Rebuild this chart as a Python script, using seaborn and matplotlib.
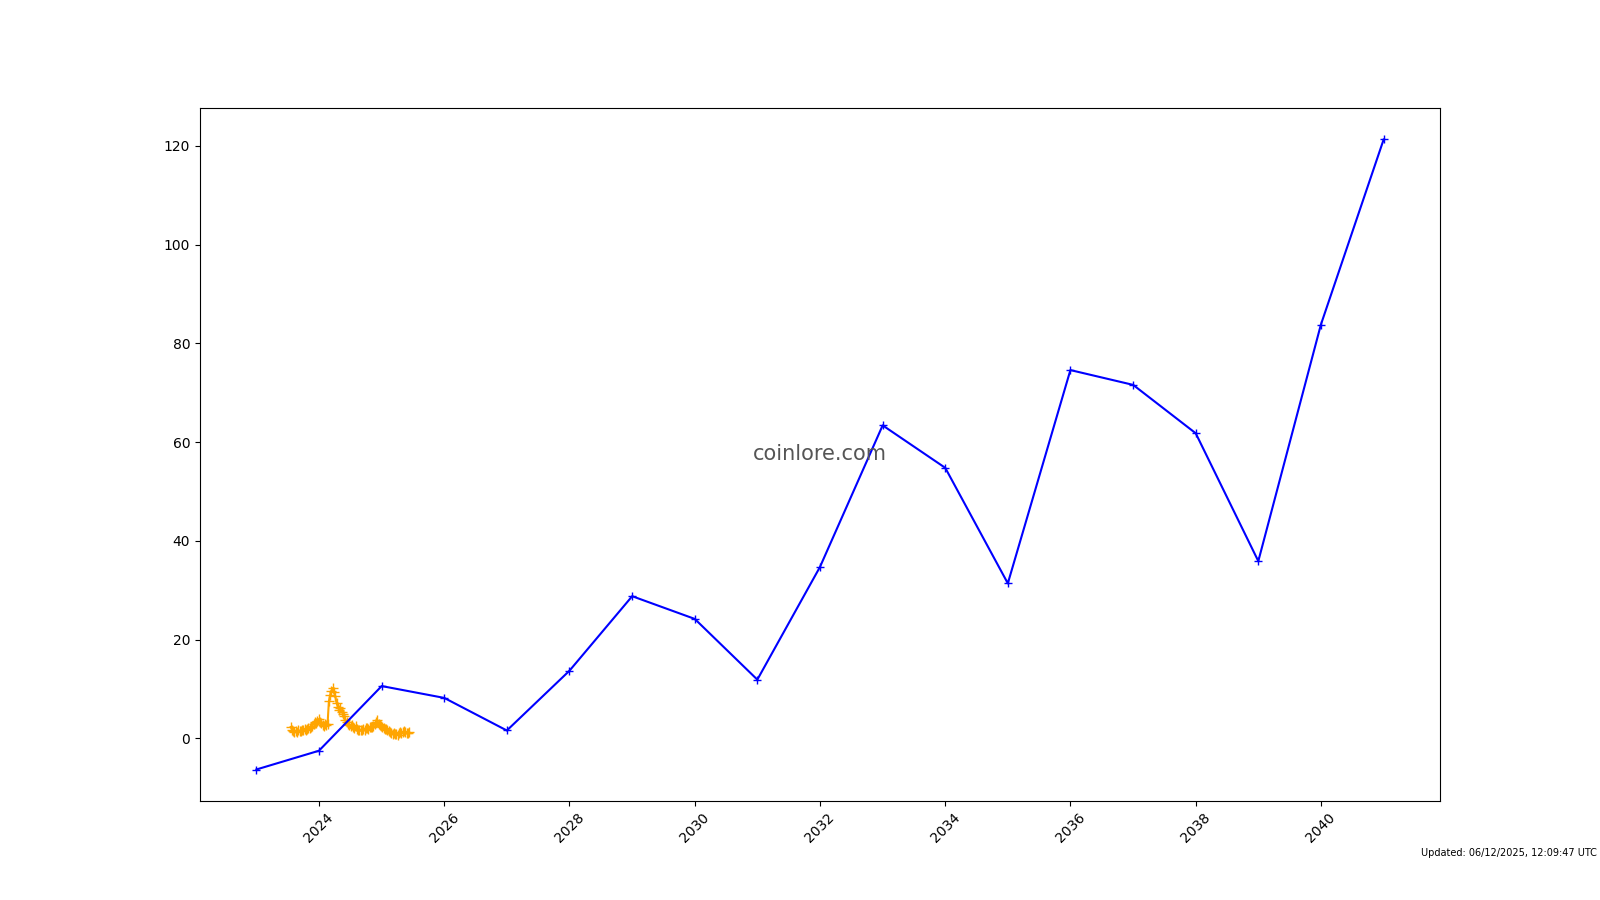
import matplotlib
matplotlib.use("Agg")
import matplotlib.pyplot as plt
import matplotlib.dates as mdates
import seaborn as sns
import pandas as pd

# yearly forecast (blue)
forecast_years = [2023, 2024, 2025, 2026, 2027, 2028, 2029, 2030, 2031, 2032,
                  2033, 2034, 2035, 2036, 2037, 2038, 2039, 2040, 2041]
forecast_prices = [-6.3, -2.5, 10.6, 8.2, 1.6, 13.7, 28.8, 24.2, 11.9, 34.7,
                   63.4, 54.8, 31.4, 74.6, 71.6, 61.8, 35.9, 83.8, 121.3]

# weekly price history (orange), mid Jul 2023 - Jun 2025
history_start = "2023-07-20"
history_end = "2025-06-10"
history_prices = [
    2.3, 1.8, 1.4, 1.2,
    1.5, 1.3, 1.6, 1.4,
    1.5, 1.7, 1.6, 1.9,
    1.8, 2.0, 2.2, 2.1,
    2.4, 2.6, 2.9, 3.3,
    3.2, 3.6, 3.9, 3.4,
    3.1, 2.8, 2.6, 2.9,
    2.7, 3.0, 7.5, 8.8,
    9.6, 10.2, 9.4, 8.6,
    7.2, 6.4, 5.8, 6.1,
    5.4, 5.0, 4.6, 3.8,
    3.3, 3.0, 2.8, 2.5,
    2.7, 2.4, 2.2, 2.5,
    1.9, 1.7, 1.8, 1.6,
    1.8, 2.0, 1.7, 2.1,
    2.2, 2.0, 2.3, 2.4,
    2.3, 2.6, 2.9, 3.3,
    3.7, 3.0, 2.8, 2.6,
    2.4, 2.2, 1.9, 2.0,
    1.6, 1.4, 1.2, 1.1,
    0.9, 1.0, 0.8, 0.9,
    0.7, 1.0, 1.2, 1.1,
    1.3, 1.4, 1.2, 1.0,
    1.1, 1.2,
]

updated_text = "Updated: 06/12/2025, 12:09:47 UTC"

forecast = pd.DataFrame({
    "date": pd.to_datetime([f"{y}-01-01" for y in forecast_years]),
    "price": forecast_prices,
})
history = pd.DataFrame({
    "date": pd.date_range(history_start, history_end, periods=len(history_prices)),
    "price": history_prices,
})

fig, ax = plt.subplots(figsize=(16, 9), dpi=100)

sns.lineplot(data=history, x="date", y="price", ax=ax, color="orange",
             marker="+", markeredgecolor="orange", markeredgewidth=1,
             markersize=7, linewidth=1.5, estimator=None)
sns.lineplot(data=forecast, x="date", y="price", ax=ax, color="blue",
             marker="+", markeredgecolor="blue", markeredgewidth=1,
             markersize=6, linewidth=1.5, estimator=None)

ax.xaxis.set_major_locator(mdates.YearLocator(2))
ax.xaxis.set_major_formatter(mdates.DateFormatter("%Y"))
plt.setp(ax.get_xticklabels(), rotation=45)
ax.set_xlabel("")
ax.set_ylabel("")

ax.text(0.5, 0.5, "coinlore.com", transform=ax.transAxes, ha="center",
        va="center", fontsize=15, color="#555555")
fig.text(0.998, 0.047, updated_text, ha="right", va="bottom", fontsize=7)

plt.savefig("out.png")
plt.close()
